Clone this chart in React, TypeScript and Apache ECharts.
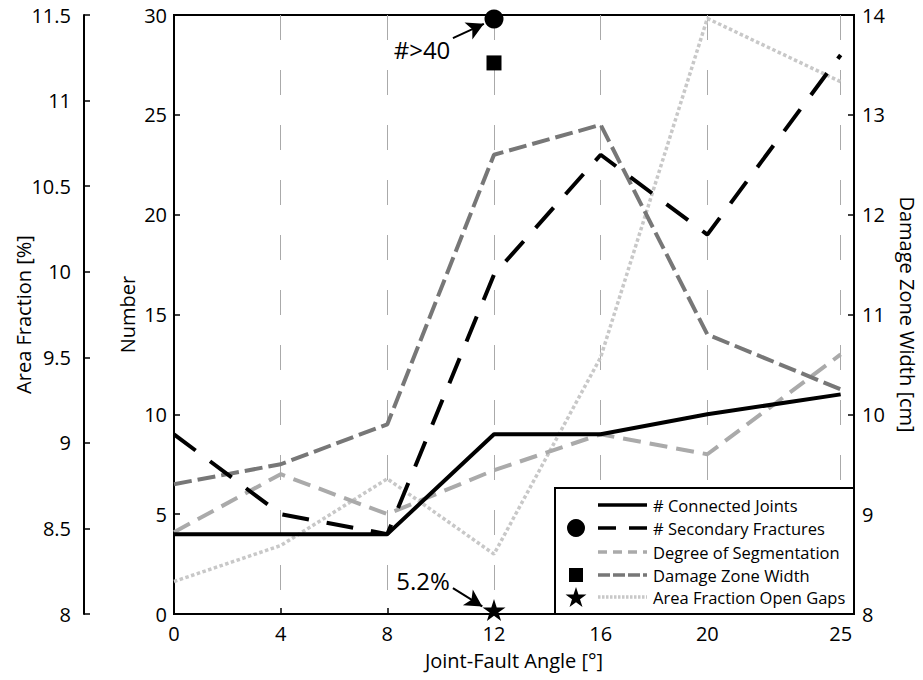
import React, { useEffect, useRef } from "react";
import * as echarts from "echarts";

// ---- data ----
const angles = [0, 4, 8, 12, 16, 20, 25];
const xTickValues = [0, 4, 8, 12, 16, 20, 25];
const connectedJoints = [4, 4, 4, 9, 9, 10, 11];
const secondaryFractures = [9, 5, 4, 17, 23, 19, 28];
const degreeSegmentation = [4.1, 7, 5, 7.2, 9, 8, 13];
const damageZoneWidth = [9.3, 9.5, 9.9, 12.6, 12.9, 10.8, 10.25];
const areaFractionOpenGaps = [8.19, 8.4, 8.79, 8.35, 9.5, 11.48, 11.11];
const circleMarker = [12, 29.8];
const squareMarker = [12, 27.6];
const starMarker = [12, 0];
const annotationTexts = ["#>40", "5.2%"];
const legendLabels = [
  "# Connected Joints",
  "# Secondary Fractures",
  "Degree of Segmentation",
  "Damage Zone Width",
  "Area Fraction Open Gaps",
];

const FONT = "'Open Sans', 'Noto Sans', sans-serif";
const STAR =
  "path://M0,-10L2.245,-3.09L9.511,-3.09L3.633,1.18L5.878,8.09L0,3.82L-5.878,8.09L-3.633,1.18L-9.511,-3.09L-2.245,-3.09Z";

const pair = (ys: number[]) => angles.map((x, i) => [x, ys[i]]);

function starPoints(cx: number, cy: number, R: number) {
  const pts: number[][] = [];
  const r = R * 0.382;
  for (let i = 0; i < 10; i++) {
    const a = -Math.PI / 2 + (i * Math.PI) / 5;
    const rad = i % 2 === 0 ? R : r;
    pts.push([cx + rad * Math.cos(a), cy + rad * Math.sin(a)]);
  }
  return pts;
}

export default function App() {
  const ref = useRef<HTMLDivElement>(null);
  useEffect(() => {
    if (!ref.current) return;
    const chart = echarts.init(ref.current, undefined, { renderer: "svg" });

    const axisLabelStyle = { color: "#000", fontSize: 20, fontFamily: FONT };
    const nameStyle = { color: "#000", fontSize: 20, fontFamily: FONT };
    const axisLine = { show: true, lineStyle: { color: "#000", width: 2 } };

    // legend geometry
    const lgX = 555, lgY = 488, lgW = 299, lgH = 126;
    const rowY = [505, 528, 552, 575, 597];
    const lineX1 = 598, lineX2 = 647, textX = 653, markX = 576;
    const legendLineStyles = [
      { stroke: "#000", lineWidth: 3.5 },
      { stroke: "#000", lineWidth: 3.5, lineDash: [18, 13] },
      { stroke: "#aaa", lineWidth: 3.5, lineDash: [9, 6] },
      { stroke: "#777", lineWidth: 3.5, lineDash: [12, 3] },
      { stroke: "#c8c8c8", lineWidth: 3.5, lineDash: [2.5, 1.5] },
    ];
    const legendGraphics: any[] = [
      {
        type: "rect",
        z: 100,
        shape: { x: lgX, y: lgY, width: lgW, height: lgH },
        style: { fill: "#fff", stroke: "#000", lineWidth: 2 },
      },
    ];
    legendLabels.forEach((lab, i) => {
      legendGraphics.push({
        type: "line",
        z: 101,
        shape: { x1: lineX1, y1: rowY[i], x2: lineX2, y2: rowY[i] },
        style: legendLineStyles[i],
      });
      legendGraphics.push({
        type: "text",
        z: 101,
        x: textX,
        y: rowY[i],
        style: {
          text: lab,
          fill: "#000",
          font: `16.5px ${FONT}`,
          verticalAlign: "middle",
          align: "left",
        },
      });
    });
    legendGraphics.push({
      type: "circle",
      z: 101,
      shape: { cx: markX, cy: rowY[1], r: 9 },
      style: { fill: "#000" },
    });
    legendGraphics.push({
      type: "rect",
      z: 101,
      shape: { x: markX - 7, y: rowY[3] - 7, width: 14, height: 14 },
      style: { fill: "#000" },
    });
    legendGraphics.push({
      type: "polygon",
      z: 101,
      shape: { points: starPoints(markX, rowY[4] + 1, 11) },
      style: { fill: "#000" },
    });

    const option: any = {
      animation: false,
      backgroundColor: "#fff",
      textStyle: { fontFamily: FONT },
      grid: {
        left: 174,
        right: 69,
        top: 15,
        bottom: 66,
        containLabel: false,
        outerBoundsMode: "none",
        show: true,
        borderColor: "#000",
        borderWidth: 2,
        backgroundColor: "transparent",
      },
      xAxis: {
        type: "value",
        min: 0,
        max: 25.5,
        name: "Joint-Fault Angle [°]",
        nameLocation: "middle",
        nameGap: 36,
        nameMoveOverlap: false,
        nameTextStyle: nameStyle,
        axisLine,
        axisTick: {
          show: true,
          inside: true,
          length: 6,
          customValues: xTickValues,
          lineStyle: { color: "#000", width: 1.5 },
        },
        axisLabel: { ...axisLabelStyle, margin: 9, customValues: xTickValues },
        splitLine: {
          show: true,
          lineStyle: { color: "#aaa", width: 1, type: [25, 30] },
        },
      },
      yAxis: [
        {
          type: "value",
          min: 0,
          max: 30,
          interval: 5,
          position: "left",
          name: "Number",
          nameLocation: "middle",
          nameGap: 37,
          nameMoveOverlap: false,
          nameRotate: 90,
          nameTextStyle: nameStyle,
          axisLine,
          axisTick: { show: true, inside: true, length: 6, lineStyle: { color: "#000", width: 1.5 } },
          axisLabel: { ...axisLabelStyle, margin: 7 },
          splitLine: { show: false },
        },
        {
          type: "value",
          min: 8,
          max: 14,
          interval: 1,
          position: "right",
          name: "Damage Zone Width [cm]",
          nameLocation: "middle",
          nameGap: 43,
          nameMoveOverlap: false,
          nameRotate: -90,
          nameTextStyle: nameStyle,
          axisLine,
          axisTick: { show: true, inside: true, length: 6, lineStyle: { color: "#000", width: 1.5 } },
          axisLabel: { ...axisLabelStyle, margin: 8 },
          splitLine: { show: false },
        },
        {
          type: "value",
          min: 8,
          max: 11.5,
          interval: 0.5,
          position: "left",
          offset: 90,
          name: "Area Fraction [%]",
          nameLocation: "middle",
          nameGap: 51,
          nameMoveOverlap: false,
          nameRotate: 90,
          nameTextStyle: nameStyle,
          axisLine,
          axisTick: { show: true, inside: true, length: 6, lineStyle: { color: "#000", width: 1.5 } },
          axisLabel: { ...axisLabelStyle, margin: 13 },
          splitLine: { show: false },
        },
      ],
      series: [
        {
          name: "Area Fraction Open Gaps",
          type: "line",
          yAxisIndex: 2,
          data: pair(areaFractionOpenGaps),
          symbol: "none",
          z: 3,
          lineStyle: { color: "#c8c8c8", width: 3.5, type: [3.5, 2.5], cap: "butt" },
        },
        {
          name: "Degree of Segmentation",
          type: "line",
          yAxisIndex: 0,
          data: pair(degreeSegmentation),
          symbol: "none",
          z: 4,
          lineStyle: { color: "#aaa", width: 4, type: [18, 9], cap: "butt" },
        },
        {
          name: "Damage Zone Width",
          type: "line",
          yAxisIndex: 1,
          data: pair(damageZoneWidth),
          symbol: "none",
          z: 5,
          lineStyle: { color: "#777", width: 4, type: [18, 6], cap: "butt" },
        },
        {
          name: "# Secondary Fractures",
          type: "line",
          yAxisIndex: 0,
          data: pair(secondaryFractures),
          symbol: "none",
          z: 6,
          lineStyle: { color: "#000", width: 4, type: [27, 18], cap: "butt" },
        },
        {
          name: "# Connected Joints",
          type: "line",
          yAxisIndex: 0,
          data: pair(connectedJoints),
          symbol: "none",
          z: 7,
          lineStyle: { color: "#000", width: 4, type: "solid" },
        },
        {
          name: "circle",
          type: "scatter",
          yAxisIndex: 0,
          data: [circleMarker],
          symbol: "circle",
          symbolSize: 19,
          itemStyle: { color: "#000", opacity: 1 },
          clip: false,
          z: 10,
          markLine: {
            silent: true,
            symbol: ["none", "arrow"],
            symbolSize: [14, 17],
            label: { show: false },
            lineStyle: { color: "#000", width: 2, type: "solid", opacity: 1 },
            emphasis: { disabled: true },
            data: [
              [{ coord: [10.46, 28.84] }, { coord: [11.62, 29.56] }],
              [{ coord: [10.46, 1.3] }, { coord: [11.56, 0.38] }],
            ],
          },
        },
        {
          name: "square",
          type: "scatter",
          yAxisIndex: 0,
          data: [squareMarker],
          symbol: "rect",
          symbolSize: 15,
          itemStyle: { color: "#000", opacity: 1 },
          clip: false,
          z: 10,
        },
        {
          name: "star",
          type: "scatter",
          yAxisIndex: 0,
          data: [starMarker],
          symbol: STAR,
          symbolSize: [23, 22],
          symbolOffset: [0, -4],
          itemStyle: { color: "#000", opacity: 1 },
          clip: false,
          z: 10,
        },
      ],
      graphic: [
        {
          type: "text",
          z: 50,
          x: 422,
          y: 49,
          style: {
            text: annotationTexts[0],
            fill: "#000",
            font: `24px ${FONT}`,
            align: "center",
            verticalAlign: "middle",
          },
        },
        {
          type: "text",
          z: 50,
          x: 423,
          y: 580,
          style: {
            text: annotationTexts[1],
            fill: "#000",
            font: `24px ${FONT}`,
            align: "center",
            verticalAlign: "middle",
          },
        },
        ...legendGraphics,
      ],
    };
    chart.setOption(option);
    return () => chart.dispose();
  }, []);
  return (
    <div
      ref={ref}
      style={{ position: "fixed", left: 0, top: 0, width: 923, height: 680, background: "#fff" }}
    />
  );
}
